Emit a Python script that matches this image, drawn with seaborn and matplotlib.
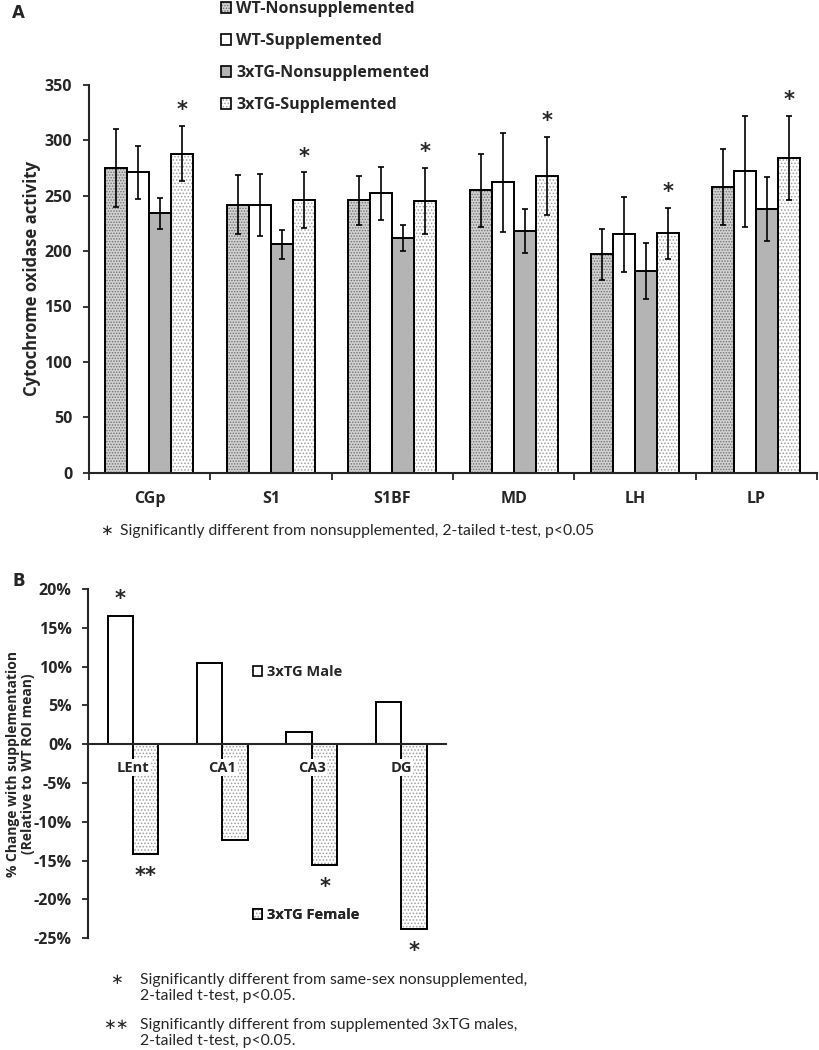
import numpy as np
import pandas as pd
import seaborn as sns
import matplotlib.pyplot as plt
from matplotlib.patches import Patch, Rectangle
from matplotlib.legend_handler import HandlerTuple

# Panel A: cytochrome oxidase activity (mean, SD) per region
regions = ['CGp', 'S1', 'S1BF', 'MD', 'LH', 'LP']
groups = ['WT-Nonsupplemented', 'WT-Supplemented',
          '3xTG-Nonsupplemented', '3xTG-Supplemented']
wt_non = [275, 242, 246, 255, 197, 258]
wt_sup = [271, 242, 252, 262, 215, 272]
tg_non = [234, 206, 212, 218, 182, 238]
tg_sup = [288, 246, 245, 268, 216, 284]
wt_non_sd = [35, 27, 22, 33, 23, 34]
wt_sup_sd = [24, 28, 24, 45, 34, 50]
tg_non_sd = [14, 13, 12, 20, 25, 29]
tg_sup_sd = [25, 25, 30, 35, 23, 38]
stars_a = ['*', '*', '*', '*', '*', '*']   # on 3xTG-Supplemented

# Panel B: % change with supplementation
hippo = ['LEnt', 'CA1', 'CA3', 'DG']
sexes = ['3xTG Male', '3xTG Female']
male_pct = [16.5, 10.5, 1.55, 5.4]
female_pct = [-14.1, -12.4, -15.6, -23.8]
male_stars = ['*', '', '', '']
female_stars = ['**', '', '*', '*']

means = [wt_non, wt_sup, tg_non, tg_sup]
sds = [wt_non_sd, wt_sup_sd, tg_non_sd, tg_sup_sd]
dfA = pd.DataFrame({
    'region': np.tile(regions, len(groups)),
    'group': np.repeat(groups, len(regions)),
    'value': np.concatenate(means),
})
dfB = pd.DataFrame({
    'roi': np.tile(hippo, 2),
    'sex': np.repeat(sexes, len(hippo)),
    'pct': np.concatenate([male_pct, female_pct]),
})

# face colour, hatch, dot colour
styles = {
    'WT-Nonsupplemented': ('#d2d2d2', '......', '#707070'),
    'WT-Supplemented': ('white', '', 'black'),
    '3xTG-Nonsupplemented': ('#b4b4b4', '', 'black'),
    '3xTG-Supplemented': ('white', '.....', '#a0a0a0'),
    '3xTG Male': ('white', '', 'black'),
    '3xTG Female': ('white', '.....', '#a0a0a0'),
}

sns.set_theme(style='ticks')
plt.rcParams['font.family'] = ['Open Sans', 'DejaVu Sans']
plt.rcParams['hatch.linewidth'] = 0.7
plt.rcParams['axes.linewidth'] = 1.5
plt.rcParams['axes.axisbelow'] = False
plt.rcParams['xtick.major.width'] = 1.3
plt.rcParams['ytick.major.width'] = 1.3
plt.rcParams['xtick.minor.width'] = 1.3

W, H = 819, 1050
fig = plt.figure(figsize=(W / 100, H / 100), dpi=100)


def fx(px):
    return px / W


def fy(py):
    return 1 - py / H


def style_bars(ax, container, name):
    face, hatch, dot = styles[name]
    for bar in container:
        bar.set_facecolor(face)
        bar.set_hatch(hatch)
        bar.set_edgecolor(dot)
        bar.set_linewidth(0)
        ax.add_patch(Rectangle(bar.get_xy(), bar.get_width(), bar.get_height(),
                               fill=False, ec='black', lw=1.4, zorder=1.2))


def legend_handle(name):
    face, hatch, dot = styles[name]
    return (Patch(facecolor=face, hatch=hatch, edgecolor=dot, lw=0),
            Patch(fill=False, edgecolor='black', lw=1.2))


# ---------------- Panel A ----------------
axA = fig.add_axes([fx(88.8), fy(472.7), fx(817 - 88.8), (472.7 - 84.9) / H])
sns.barplot(data=dfA, x='region', y='value', hue='group', hue_order=groups,
            order=regions, width=0.725, errorbar=None, legend=False, ax=axA)

for j, cont in enumerate(list(axA.containers)):
    style_bars(axA, cont, groups[j])
    xs = [b.get_x() + b.get_width() / 2 for b in cont]
    axA.errorbar(xs, means[j], yerr=sds[j], fmt='none', ecolor='black',
                 elinewidth=1.2, capsize=2.5, capthick=1.2, zorder=3)
    if groups[j] == '3xTG-Supplemented':
        for x, m, s, st in zip(xs, means[j], sds[j], stars_a):
            axA.annotate(st, (x, m + s), xytext=(0, 4), textcoords='offset points',
                         ha='center', va='bottom', fontsize=15, fontweight='bold',
                         family='DejaVu Sans')

axA.set_ylim(0, 350)
axA.set_xlim(-0.5, len(regions) - 0.5)
axA.set_yticks(range(0, 351, 50))
axA.set_xticks(np.arange(-0.5, len(regions), 1.0), minor=True)
axA.tick_params(axis='x', which='major', length=0, pad=13)
axA.tick_params(axis='x', which='minor', length=5, direction='out')
axA.tick_params(axis='y', length=4, direction='out', pad=8)
for lab in axA.get_xticklabels() + axA.get_yticklabels():
    lab.set_fontweight('bold')
    lab.set_fontsize(11.5)
axA.set_xlabel('')
axA.set_ylabel('Cytochrome oxidase activity', fontsize=12, fontweight='bold')
axA.yaxis.set_label_coords(-0.066, 0.5)
sns.despine(ax=axA)

fig.legend(handles=[legend_handle(g) for g in groups], labels=groups,
           handler_map={tuple: HandlerTuple(ndivide=1)},
           loc='center left', bbox_to_anchor=(fx(221), fy(57)),
           frameon=False, borderpad=0, borderaxespad=0, handlelength=0.65,
           handleheight=0.65, handletextpad=0.3, labelspacing=1.0,
           prop={'weight': 'bold', 'size': 11.5})

fig.text(fx(12), fy(13), 'A', fontsize=12, fontweight='bold', family='DejaVu Sans',
         va='center')
fig.text(fx(106), fy(531), '∗', fontsize=11, ha='center', va='center',
         family=['Lato', 'DejaVu Sans'])
fig.text(fx(120), fy(531),
         'Significantly different from nonsupplemented, 2-tailed t-test, p<0.05',
         fontsize=11.3, va='center', family=['Lato', 'DejaVu Sans'])

# ---------------- Panel B ----------------
axB = fig.add_axes([fx(88.3), fy(938.3), fx(446 - 88.3), (938.3 - 589) / H])
sns.barplot(data=dfB, x='roi', y='pct', hue='sex', hue_order=sexes, order=hippo,
            width=0.57, errorbar=None, legend=False, ax=axB)
pct_vals = [male_pct, female_pct]
pct_stars = [male_stars, female_stars]
for j, cont in enumerate(list(axB.containers)):
    style_bars(axB, cont, sexes[j])
    for b, v, st in zip(cont, pct_vals[j], pct_stars[j]):
        if not st:
            continue
        x = b.get_x() + b.get_width() / 2
        off = 5 if v > 0 else -23
        axB.annotate(st, (x, v), xytext=(0, off), textcoords='offset points',
                     ha='center', va='bottom', fontsize=15, fontweight='bold',
                     family='DejaVu Sans')

axB.set_ylim(-25, 20)
axB.set_xlim(-0.5, len(hippo) - 0.5)
axB.set_yticks(range(-25, 21, 5))
axB.set_yticklabels([f'{t}%' for t in range(-25, 21, 5)])
axB.spines['bottom'].set_position(('data', 0))
sns.despine(ax=axB)
axB.tick_params(axis='x', length=0, pad=12)
axB.tick_params(axis='y', length=4, direction='out', pad=8)
for lab in axB.get_xticklabels():
    lab.set_fontweight('bold')
    lab.set_fontsize(10.5)
    lab.set_bbox(dict(facecolor='white', edgecolor='none', pad=1))
for lab in axB.get_yticklabels():
    lab.set_fontweight('bold')
    lab.set_fontsize(11.5)
axB.set_xlabel('')
axB.set_ylabel('% Change with supplementation\n(Relative to WT ROI mean)',
               fontsize=10, fontweight='bold', linespacing=1.1)
axB.yaxis.set_label_coords(-0.15, 0.5)

for name, py in zip(sexes, [672, 915]):
    axB.legend(handles=[legend_handle(name)], labels=[name],
               handler_map={tuple: HandlerTuple(ndivide=1)},
               loc='center left', bbox_to_anchor=(fx(253), fy(py)),
               bbox_transform=fig.transFigure, frameon=False, borderpad=0,
               borderaxespad=0, handlelength=0.65, handleheight=0.65,
               handletextpad=0.3, prop={'weight': 'bold', 'size': 10.5})
    axB.add_artist(axB.get_legend())

fig.text(fx(12), fy(581), 'B', fontsize=12, fontweight='bold', family='DejaVu Sans',
         va='center')
fig.text(fx(116), fy(980), '∗', fontsize=11, ha='center', va='center',
         family=['Lato', 'DejaVu Sans'])
fig.text(fx(140), fy(988),
         'Significantly different from same-sex nonsupplemented,\n2-tailed t-test, p<0.05.',
         fontsize=11.3, va='center', linespacing=1.2, family=['Lato', 'DejaVu Sans'])
fig.text(fx(116), fy(1025), '∗∗', fontsize=11, ha='center', va='center',
         family=['Lato', 'DejaVu Sans'])
fig.text(fx(140), fy(1033),
         'Significantly different from supplemented 3xTG males,\n2-tailed t-test, p<0.05.',
         fontsize=11.3, va='center', linespacing=1.2, family=['Lato', 'DejaVu Sans'])

fig.savefig('out.png', dpi=100)
